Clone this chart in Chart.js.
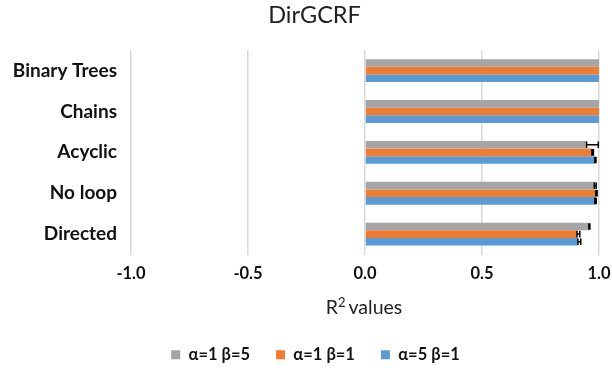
<!DOCTYPE html>
<html>
<head>
<meta charset="utf-8">
<script src="https://cdn.jsdelivr.net/npm/chart.js@4.4.1/dist/chart.umd.min.js"></script>
<style>
  html, body { margin: 0; padding: 0; background: #fff; }
  #wrap { width: 612px; height: 371px; }
</style>
</head>
<body>
<div id="wrap"><canvas id="chart" width="612" height="371"></canvas></div>
<script>
const categories = ["Binary Trees", "Chains", "Acyclic", "No loop", "Directed"];
const seriesNames = ["α=1 β=5", "α=1 β=1", "α=5 β=1"];
const seriesColors = ["#A5A5A5", "#ED7D31", "#5B9BD5"];

// R^2 values
const grayValues = [1.0, 1.0, 0.947, 0.980, 0.957];
const orangeValues = [1.0, 1.0, 0.970, 0.986, 0.906];
const blueValues = [1.0, 1.0, 0.982, 0.982, 0.910];

// plus-direction error bars
const grayErr = [0, 0, 0.050, 0.008, 0.004];
const orangeErr = [0, 0, 0.006, 0.006, 0.012];
const blueErr = [0, 0, 0.005, 0.006, 0.012];

const xTicks = [-1.0, -0.5, 0.0, 0.5, 1.0];

const FONT = "Lato, 'Open Sans', sans-serif";

const errorBars = {
  id: "errorBars",
  afterDatasetsDraw(chart) {
    const ctx = chart.ctx;
    const xScale = chart.scales.x;
    ctx.save();
    ctx.strokeStyle = "#000";
    ctx.lineWidth = 1.5;
    chart.data.datasets.forEach((ds, i) => {
      const meta = chart.getDatasetMeta(i);
      meta.data.forEach((bar, j) => {
        const err = ds.errPlus[j];
        if (!err) return;
        const x0 = bar.x;
        const x1 = xScale.getPixelForValue(ds.data[j] + err);
        const h = bar.height / 2 - 0.5;
        ctx.beginPath();
        ctx.moveTo(x0, bar.y);
        ctx.lineTo(x1, bar.y);
        ctx.moveTo(x0, bar.y - h);
        ctx.lineTo(x0, bar.y + h);
        ctx.moveTo(x1, bar.y - h);
        ctx.lineTo(x1, bar.y + h);
        ctx.stroke();
      });
    });
    ctx.restore();
  }
};

const axisTitle = {
  id: "axisTitle",
  afterDraw(chart) {
    const ctx = chart.ctx;
    const cx = chart.scales.x.getPixelForValue(0);
    ctx.save();
    ctx.fillStyle = "#222";
    ctx.textBaseline = "alphabetic";
    ctx.font = "19.5px " + FONT;
    const w1 = ctx.measureText("R").width;
    ctx.font = "13px " + FONT;
    const w2 = ctx.measureText("2").width;
    ctx.font = "19.5px " + FONT;
    const w3 = ctx.measureText(" values").width;
    let x = cx - (w1 + w2 + w3) / 2;
    const y = 314;
    ctx.textAlign = "left";
    ctx.fillText("R", x, y);
    x += w1;
    ctx.font = "13px " + FONT;
    ctx.fillText("2", x, y - 7);
    x += w2 - 2;
    ctx.font = "19.5px " + FONT;
    ctx.fillText(" values", x, y);
    ctx.restore();
  }
};

// nudge title and legend sideways to where they sit in the original
const shiftBlocks = {
  id: "shiftBlocks",
  afterLayout(chart) {
    if (chart.titleBlock) {
      chart.titleBlock.left += 15;
      chart.titleBlock.right += 15;
    }
    if (chart.legend) {
      chart.legend.left += 16;
      chart.legend.right += 16;
      chart.legend.top += 2;
      chart.legend.bottom += 2;
    }
  }
};

new Chart(document.getElementById("chart"), {
  type: "bar",
  data: {
    labels: categories,
    datasets: [
      { label: seriesNames[0], data: grayValues, errPlus: grayErr, backgroundColor: seriesColors[0] },
      { label: seriesNames[1], data: orangeValues, errPlus: orangeErr, backgroundColor: seriesColors[1] },
      { label: seriesNames[2], data: blueValues, errPlus: blueErr, backgroundColor: seriesColors[2] }
    ]
  },
  options: {
    indexAxis: "y",
    responsive: false,
    animation: false,
    devicePixelRatio: 1,
    layout: { padding: { top: 0, right: 13, bottom: 0, left: 0 } },
    datasets: {
      bar: { categoryPercentage: 0.56, barPercentage: 1.0 }
    },
    plugins: {
      title: {
        display: true,
        text: "DirGCRF",
        color: "#222",
        font: { family: FONT, size: 23.5, weight: "normal" },
        padding: { top: 1, bottom: 21 }
      },
      legend: {
        position: "bottom",
        labels: {
          color: "#111",
          boxWidth: 9,
          boxHeight: 9,
          padding: 26,
          font: { family: FONT, size: 16.5, weight: "bold" }
        }
      },
      tooltip: { enabled: false }
    },
    scales: {
      x: {
        min: -1,
        max: 1,
        afterBuildTicks: (scale) => {
          scale.ticks = xTicks.map((v) => ({ value: v }));
        },
        afterFit: (scale) => {
          scale.height = 64;
          scale.paddingRight = 0;
          scale.paddingLeft = 0;
        },
        grid: { color: "#D9D9D9", lineWidth: 1.5, drawTicks: false },
        border: { display: false },
        ticks: {
          color: "#111",
          padding: 9,
          font: { family: FONT, size: 16.5, weight: "bold" },
          callback: (v) => Number(v).toFixed(1)
        }
      },
      y: {
        afterFit: (scale) => { scale.width = 131; },
        grid: { display: false, drawTicks: false },
        border: { display: false },
        ticks: {
          color: "#111",
          padding: 14,
          font: { family: FONT, size: 19, weight: "bold" }
        }
      }
    }
  },
  plugins: [errorBars, axisTitle, shiftBlocks]
});
</script>
</body>
</html>
